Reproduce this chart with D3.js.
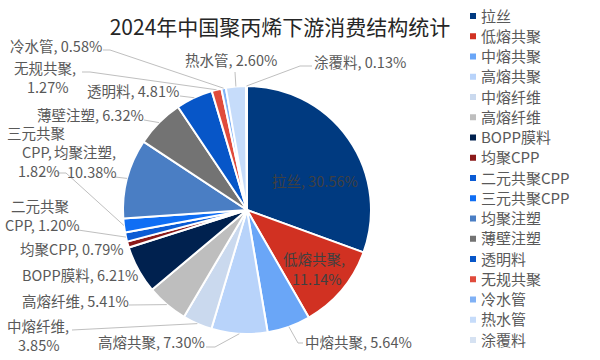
<!DOCTYPE html>
<html><head><meta charset="utf-8">
<script src="https://cdn.jsdelivr.net/npm/d3@7"></script>
<style>html,body{margin:0;padding:0;background:#fff;}svg{display:block;}</style>
</head><body>
<svg id="chart" width="600" height="360"></svg>
<script>
const title = "2024年中国聚丙烯下游消费结构统计";
const categories = ["拉丝","低熔共聚","中熔共聚","高熔共聚","中熔纤维","高熔纤维","BOPP膜料","均聚CPP","二元共聚CPP","三元共聚CPP","均聚注塑","薄壁注塑","透明料","无规共聚","冷水管","热水管","涂覆料"];
const values = [30.56,11.14,5.64,7.30,3.85,5.41,6.21,0.79,1.20,1.82,10.38,6.32,4.81,1.27,0.58,2.60,0.13];
const colors = ["#003a80","#d13122","#6aa6f7","#b8d3fa","#cad9ee","#bebebe","#00214f","#8b1a1a","#0b5bd4","#0f6ef4","#4a7ec4","#737373","#0756c8","#e04b3c","#80b1f5","#c6dcfa","#d6e2f2"];

// label layout: text lines (x, baseline y) and leader line points (last point = slice edge, computed)
const labelLayout = {
  "冷水管":   {lines:[["冷水管, 0.58%",10,52]], leader:[[103,50],[110,50]]},
  "无规共聚": {lines:[["无规共聚,",14,74],["1.27%",27,93]], leader:[[82,72],[90,72]]},
  "热水管":   {lines:[["热水管, 2.60%",185,66]], leader:[[235,72]]},
  "涂覆料":   {lines:[["涂覆料, 0.13%",314,68]], leader:[[312,66],[300,66]]},
  "透明料":   {lines:[["透明料, 4.81%",87,97]], leader:[[180,96]]},
  "薄壁注塑": {lines:[["薄壁注塑, 6.32%",37,121]], leader:[[144,120]]},
  "三元共聚CPP": {lines:[["三元共聚",7,139],["CPP, ",22,158],["1.82%",18,177]], leader:[[57,173],[66,173]]},
  "均聚注塑": {lines:[["均聚注塑,",54,158],["10.38%",67,178]], leader:[[115,177]]},
  "二元共聚CPP": {lines:[["二元共聚",11,212],["CPP, 1.20%",5,231]], leader:[[78,230]]},
  "均聚CPP": {lines:[["均聚CPP, 0.79%",20,255]], leader:null},
  "BOPP膜料": {lines:[["BOPP膜料, 6.21%",22,281]], leader:null},
  "高熔纤维": {lines:[["高熔纤维, 5.41%",22,307]], leader:[[129,305]]},
  "中熔纤维": {lines:[["中熔纤维,",7,332],["3.85%",18,351]], leader:[[72,330]]},
  "高熔共聚": {lines:[["高熔共聚, 7.30%",98,348]], leader:[[206,347],[215,347]]},
  "中熔共聚": {lines:[["中熔共聚, 5.64%",305,348]], leader:[[303,343],[298,343]]},
  "低熔共聚": {lines:[["低熔共聚,",283,265],["11.14%",292,285]], leader:null, inside:true},
  "拉丝":     {lines:[["拉丝, 30.56%",272,187]], leader:null, inside:true}
};

const svg = d3.select("#chart");
const font = "'Noto Sans CJK SC','Noto Sans',sans-serif";
const cx = 247, cy = 210, R = 124;

svg.append("text").attr("x",280).attr("y",35).attr("text-anchor","middle")
  .attr("font-family",font).attr("font-size",21).attr("fill","#262626").text(title);

const data = categories.map((c,i)=>({name:c,value:values[i],color:colors[i]}));
const pie = d3.pie().sort(null).value(d=>d.value).startAngle(0).endAngle(2*Math.PI);
const arcs = pie(data);
const arc = d3.arc().innerRadius(0).outerRadius(R);
const g = svg.append("g").attr("transform",`translate(${cx},${cy})`);
g.selectAll("path").data(arcs).join("path")
  .attr("d",arc).attr("fill",d=>d.data.color)
  .attr("stroke","#fff").attr("stroke-width",2).attr("stroke-linejoin","round");

// leader lines
arcs.forEach(a=>{
  const L = labelLayout[a.data.name];
  if(!L || !L.leader) return;
  const mid = (a.startAngle+a.endAngle)/2;
  const ex = cx + R*Math.sin(mid), ey = cy - R*Math.cos(mid);
  const pts = L.leader.concat([[ex,ey]]);
  svg.append("path").attr("d",d3.line()(pts)).attr("fill","none")
    .attr("stroke","#bfbfbf").attr("stroke-width",1);
});

// labels
arcs.forEach(a=>{
  const L = labelLayout[a.data.name];
  if(!L) return;
  L.lines.forEach(([t,x,y])=>{
    svg.append("text").attr("x",x).attr("y",y).attr("font-family",font)
      .attr("font-size",14.5).attr("fill",L.inside?"#404040":"#595959").text(t);
  });
});

// legend
const lg = svg.append("g");
data.forEach((d,i)=>{
  const y = 16 + i*20.25;
  lg.append("rect").attr("x",470).attr("y",y-3).attr("width",6).attr("height",6).attr("fill",d.color);
  lg.append("text").attr("x",481).attr("y",y+5.5).attr("font-family",font)
    .attr("font-size",15).attr("fill","#595959").text(d.name);
});
</script>
</body></html>
